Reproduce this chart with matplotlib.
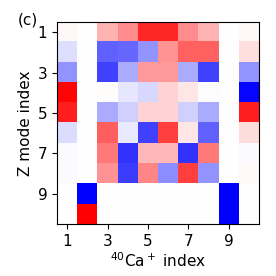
import numpy as np
import matplotlib.pyplot as plt

# mode participation matrix (rows: Z modes, cols: ions)
row1 = [0.03, 0.0, 0.30, 0.45, 0.85, 0.85, 0.45, 0.30, 0.0, 0.03]
row2 = [-0.13, 0.0, -0.62, -0.60, -0.42, 0.42, 0.62, 0.62, 0.0, 0.13]
row3 = [-0.42, 0.0, -0.75, -0.33, 0.40, 0.40, -0.33, -0.75, 0.0, -0.42]
row4 = [0.98, 0.0, 0.01, -0.10, -0.15, 0.17, 0.10, -0.01, 0.0, -0.98]
row5 = [0.88, 0.0, -0.33, -0.18, 0.17, 0.17, -0.18, -0.33, 0.0, 0.88]
row6 = [-0.14, 0.0, 0.63, -0.08, -0.75, 0.75, 0.10, -0.62, 0.0, 0.14]
row7 = [-0.02, 0.0, 0.52, -0.80, 0.28, 0.28, -0.80, 0.52, 0.0, -0.02]
row8 = [-0.02, 0.0, 0.42, -0.76, 0.47, -0.45, 0.75, -0.42, 0.0, 0.02]
row9 = [0.0, -1.0, 0.0, 0.0, 0.0, 0.0, 0.0, 0.0, -1.0, 0.0]
row10 = [0.0, 1.0, 0.0, 0.0, 0.0, 0.0, 0.0, 0.0, -1.0, 0.0]

tick_pos = [0, 2, 4, 6, 8]
tick_labels = ["1", "3", "5", "7", "9"]

data = np.array([row1, row2, row3, row4, row5, row6, row7, row8, row9, row10])

fig = plt.figure(figsize=(2.76, 2.76), dpi=100)
ax = fig.add_axes([0.207, 0.188, 0.731, 0.732])

ax.imshow(data, cmap="bwr", vmin=-1, vmax=1, aspect="auto")

ax.set_xticks(tick_pos)
ax.set_xticklabels(tick_labels)
ax.set_yticks(tick_pos)
ax.set_yticklabels(tick_labels)
ax.tick_params(labelsize=11)

ax.set_xlabel(r"$^{40}$Ca$^+$ index", fontsize=11, labelpad=2)
ax.set_ylabel("Z mode index", fontsize=11, labelpad=3)

fig.text(0.065, 0.912, "(c)", fontsize=11)

fig.savefig("out.png", dpi=100)
